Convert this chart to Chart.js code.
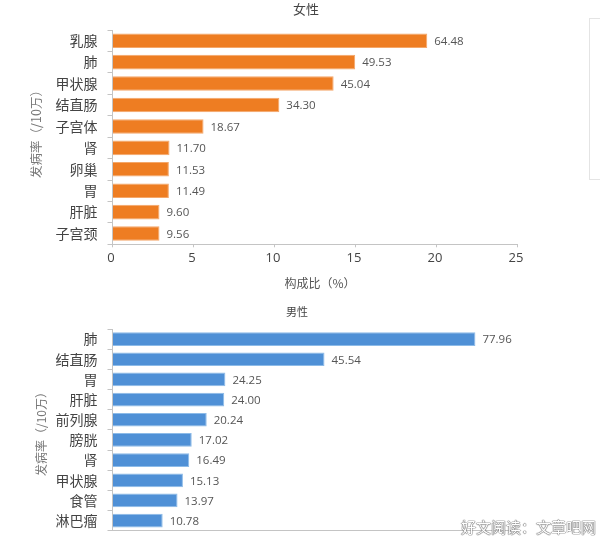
<!DOCTYPE html>
<html>
<head>
<meta charset="utf-8">
<script src="https://cdn.jsdelivr.net/npm/chart.js@4"></script>
<style>
  html, body { margin: 0; padding: 0; background: #fff; overflow: hidden; }
  #page { position: relative; width: 600px; height: 537px; }
  canvas { position: absolute; left: 0; filter: blur(0.3px); }
  #womenBox { position: absolute; top: 0; left: 0; width: 600px; height: 300px; }
  #menBox { position: absolute; top: 300px; left: 0; width: 600px; height: 237px; }
  #legendBox { position: absolute; left: 589px; top: 18px; width: 20px; height: 160px; border: 1px solid #e4e4e4; }
  #watermark {
    position: absolute; left: 461px; top: 516px; font: 15px "Noto Sans CJK SC";
    color: #fff; white-space: nowrap;
    text-shadow: 0 0 1px #555, 0 0 1px #555, 0 0 1px #555;
  }
</style>
</head>
<body>
<div id="page">
  <div id="womenBox"><canvas id="womenChart"></canvas></div>
  <div id="menBox"><canvas id="menChart"></canvas></div>
  <div id="legendBox"></div>
  <div id="watermark">好文阅读：文章吧网</div>
</div>
<script>
const womenSites = ["乳腺", "肺", "甲状腺", "结直肠", "子宫体", "肾", "卵巢", "胃", "肝脏", "子宫颈"];
// bar lengths
const womenShare = [19.43, 14.98, 13.65, 10.3, 5.62, 3.52, 3.48, 3.48, 2.9, 2.9];
// the labels printed beside the bars
const womenRates = ["64.48", "49.53", "45.04", "34.30", "18.67", "11.70", "11.53", "11.49", "9.60", "9.56"];
const womenTicks = [0, 5, 10, 15, 20, 25];

const menSites = ["肺", "结直肠", "胃", "肝脏", "前列腺", "膀胱", "肾", "甲状腺", "食管", "淋巴瘤"];
const menRates = [77.96, 45.54, 24.25, 24.0, 20.24, 17.02, 16.49, 15.13, 13.97, 10.78];
const menLabels = ["77.96", "45.54", "24.25", "24.00", "20.24", "17.02", "16.49", "15.13", "13.97", "10.78"];

const cjk = '"Noto Sans CJK SC", sans-serif';
const axisColor = "#c4c4c4";
Chart.defaults.devicePixelRatio = 1;

// draws the printed number right after each bar
const barLabels = {
  id: "barLabels",
  afterDatasetsDraw(chart, args, opts) {
    const ctx = chart.ctx;
    ctx.save();
    ctx.font = "11.5px 'Open Sans', sans-serif";
    ctx.fillStyle = "#555";
    ctx.textBaseline = "middle";
    chart.getDatasetMeta(0).data.forEach((bar, i) => {
      ctx.fillText(opts.texts[i], bar.x + 7, bar.y + 1);
    });
    ctx.restore();
  },
};

// titles sit off the plot centre in the source, so they are placed by hand
const chartTexts = {
  id: "chartTexts",
  afterDraw(chart, args, opts) {
    const ctx = chart.ctx;
    opts.items.forEach((item) => {
      ctx.save();
      ctx.translate(item.x, item.y);
      if (item.vertical) {
        ctx.rotate(-Math.PI / 2);
      }
      ctx.font = item.size + "px 'Noto Sans CJK SC'";
      ctx.fillStyle = item.color;
      ctx.textAlign = "center";
      ctx.textBaseline = "middle";
      ctx.fillText(item.text, 0, 0);
      ctx.restore();
    });
  },
};

const makeChart = (id, box, sites, values, texts, xOptions, extra) => {
  const canvas = document.getElementById(id);
  canvas.width = box.w;
  canvas.height = box.h;
  canvas.style.width = box.w + "px";
  canvas.style.height = box.h + "px";
  return new Chart(canvas, {
    type: "bar",
    data: {
      labels: sites,
      datasets: [
        {
          data: values,
          backgroundColor: extra.color,
          borderColor: extra.edge,
          borderWidth: 1,
          barPercentage: 0.68,
          categoryPercentage: 1,
        },
      ],
    },
    options: {
      indexAxis: "y",
      responsive: false,
      animation: false,
      layout: { padding: extra.padding },
      plugins: {
        legend: { display: false },
        tooltip: { enabled: false },
        barLabels: { texts: texts },
        chartTexts: { items: extra.items },
      },
      scales: {
        x: xOptions,
        y: {
          afterFit(scale) {
            scale.width = 112.5;
            // otherwise the label half-heights push the plot in from the padding
            scale.paddingTop = 0;
            scale.paddingBottom = 0;
          },
          grid: { drawOnChartArea: false, tickLength: 5, tickColor: axisColor },
          border: { color: axisColor },
          ticks: { color: "#444", padding: 10, font: { family: cjk, size: 14 } },
        },
      },
    },
    plugins: [barLabels, chartTexts],
  });
};

makeChart(
  "womenChart",
  { w: 600, h: 300 },
  womenSites,
  womenShare,
  womenRates,
  {
    min: 0,
    max: 25,
    afterBuildTicks(scale) {
      scale.ticks = womenTicks.map((v) => ({ value: v }));
    },
    afterFit(scale) {
      scale.height = 30;
    },
    grid: { drawOnChartArea: false, tickLength: 3, tickColor: axisColor },
    border: { color: axisColor },
    ticks: { color: "#444", padding: 3, labelOffset: -1.5, maxRotation: 0, font: { family: "'Open Sans'", size: 13 } },
  },
  {
    color: "#ee7d22",
    edge: "#f4a76a",
    padding: { left: 0, right: 82.5, top: 30, bottom: 25.7 },
    items: [
      { text: "女性", x: 306, y: 9, size: 13, color: "#444" },
      { text: "构成比（%）", x: 320, y: 283, size: 12, color: "#555" },
      { text: "发病率（/10万）", x: 36, y: 131, size: 12.5, color: "#777", vertical: true },
    ],
  }
);

makeChart(
  "menChart",
  { w: 600, h: 237 },
  menSites,
  menRates,
  menLabels,
  {
    min: 0,
    max: 87,
    afterFit(scale) {
      scale.height = 0;
    },
    grid: { drawOnChartArea: false, drawTicks: false },
    border: { color: axisColor },
    ticks: { display: false },
  },
  {
    color: "#4f90d6",
    edge: "#8dbbe8",
    padding: { left: 0, right: 82.5, top: 29, bottom: 6.3 },
    items: [
      { text: "男性", x: 297, y: 12, size: 11, color: "#444" },
      { text: "发病率（/10万）", x: 41, y: 131, size: 12, color: "#777", vertical: true },
    ],
  }
);
</script>
</body>
</html>
